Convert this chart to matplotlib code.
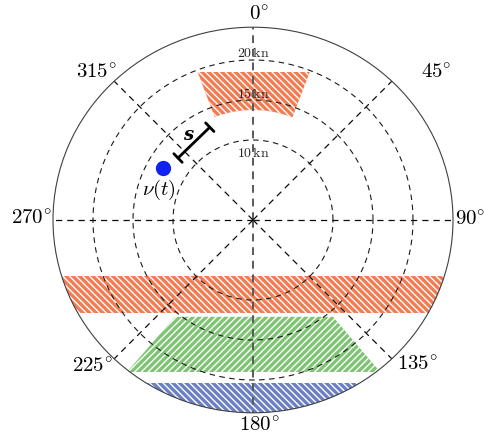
import numpy as np
import matplotlib
matplotlib.use("Agg")
import matplotlib.pyplot as plt
from matplotlib.patches import Ellipse, Rectangle, Polygon

plt.rcParams['mathtext.fontset'] = 'cm'
plt.rcParams['font.family'] = 'serif'
plt.rcParams['font.serif'] = ['DejaVu Serif']
plt.rcParams['hatch.color'] = 'white'
plt.rcParams['hatch.linewidth'] = 1.0

# speed rings (kn) and where their labels sit on the 0 deg line
rings = [10, 15, 20]
ring_label_y = [8.4, 15.8, 20.9]
bearings = [0, 45, 90, 135, 180, 225, 270, 315]
rim_half = (25.0, 24.1)  # outer rim, half width / half height in kn

# forbidden regions
sector_angles = (69.0, 110.5)   # math angle, deg
sector_inner = 13.75
sector_top = 18.5
orange_band_y = (-11.6, -7.0)
green_y = (-19.0, -12.1)
green_top_x = (-9.75, 10.0)
green_bottom_x = (-15.75, 15.9)
blue_top_y = -20.4

# own ship velocity and speed bar
nu_xy = (-11.25, 6.5)
bar_start = (-9.375, 7.75)
bar_end = (-5.4, 11.6)

c_orange = '#f37b52'
c_green = '#7fc474'
c_blue = '#6b80c2'

fig = plt.figure(figsize=(4.84, 4.38), dpi=100)
ax = fig.add_axes([0, 0, 1, 1])
ax.set_xlim(-31.625, 28.875)
ax.set_ylim(-27.25, 27.5)
ax.axis('off')

rim = Ellipse((0, 0), 2 * rim_half[0], 2 * rim_half[1], fill=False,
              ec='0.25', lw=0.8, zorder=6)
ax.add_patch(rim)


def hatched(patch, color, hatch):
    patch.set_facecolor(color)
    patch.set_edgecolor('white')
    patch.set_linewidth(0)
    patch.set_hatch(hatch)
    patch.set_zorder(1)
    ax.add_patch(patch)
    patch.set_clip_path(rim)


back = '\\' * 5
fwd = '/' * 5

# top sector: arc at the bottom, flat top
a = np.radians(np.linspace(sector_angles[0], sector_angles[1], 30))
arc = np.column_stack([sector_inner * np.cos(a), sector_inner * np.sin(a)])
top = np.array([[sector_top / np.tan(a[-1]), sector_top],
                [sector_top / np.tan(a[0]), sector_top]])
hatched(Polygon(np.vstack([arc, top]), closed=True), c_orange, back)

hatched(Rectangle((-32, orange_band_y[0]), 64, orange_band_y[1] - orange_band_y[0]),
        c_orange, back)

trap = [(green_bottom_x[0], green_y[0]), (green_bottom_x[1], green_y[0]),
        (green_top_x[1], green_y[1]), (green_top_x[0], green_y[1])]
hatched(Polygon(trap, closed=True), c_green, fwd)

hatched(Rectangle((-32, -30), 64, blue_top_y + 30), c_blue, back)

# speed rings
t = np.linspace(0, 2 * np.pi, 300)
for r, ly in zip(rings, ring_label_y):
    ax.plot(r * np.cos(t), r * np.sin(t), color='0.1', lw=0.8,
            ls=(0, (5, 4)), zorder=3)
    ax.text(0, ly, r'$%d\,\mathrm{kn}$' % r, fontsize=10, ha='center',
            va='center', color='0.15', zorder=4)

# bearing lines
for b in bearings:
    th = np.radians(90 - b)
    if b in (0, 180):
        kw = dict(color='0.35', lw=1.4, ls=(0, (4, 3)))
    else:
        kw = dict(color='0.05', lw=0.9, ls=(0, (5, 4)))
    ln, = ax.plot([0, 30 * np.cos(th)], [0, 30 * np.sin(th)], zorder=3, **kw)
    ln.set_clip_path(rim)

label_xy = {0: (0.75, 25.6, 'center'), 45: (22.9, 18.4, 'center'),
            90: (25.3, 0.0, 'left'), 135: (20.5, -18.1, 'center'),
            180: (0.75, -25.75, 'center'), 225: (-20.1, -18.4, 'center'),
            270: (-27.75, 0.1, 'center'), 315: (-19.6, 18.4, 'center')}
for b in bearings:
    x, y, ha = label_xy[b]
    ax.text(x, y, r'$%d^{\circ}$' % b, fontsize=15, ha=ha, va='center',
            zorder=7)

ax.plot(*nu_xy, 'o', color='#1024f0', ms=10, zorder=8)
ax.text(nu_xy[0] - 0.5, nu_xy[1] - 2.75, r'$\nu(t)$', fontsize=15,
        ha='center', va='center', zorder=8)

ax.annotate('', xy=bar_end, xytext=bar_start,
            arrowprops=dict(arrowstyle='|-|,widthA=0.43,widthB=0.43',
                            lw=2, color='black', shrinkA=0, shrinkB=0,
                            mutation_scale=10), zorder=8)
ax.text(-8.1, 10.6, 's', fontsize=13, fontweight='bold', fontstyle='italic',
        ha='center', va='center', zorder=8)

fig.savefig('out.png', dpi=100)
